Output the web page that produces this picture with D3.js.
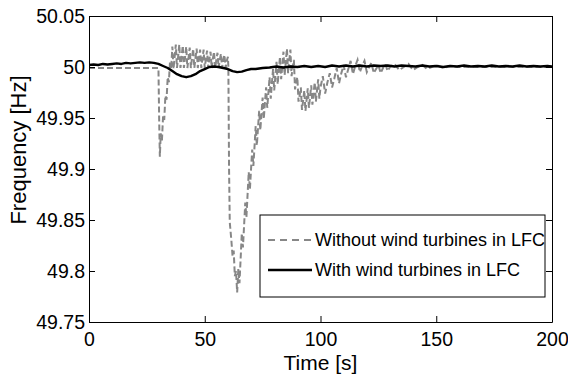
<!DOCTYPE html>
<html>
<head>
<meta charset="utf-8">
<script src="https://cdn.jsdelivr.net/npm/d3@7"></script>
<style>
  html, body { margin: 0; padding: 0; background: #fff; }
  svg { display: block; font-family: "Liberation Sans", Arial, sans-serif; }
</style>
</head>
<body>
<div id="chart"></div>
<script>
// frequency without wind turbines taking part in LFC (grey dashed)
const timeWithout = [
  0, 5, 10, 15, 20, 25, 29.8,
  30.0, 30.3, 30.6, 31, 31.5, 32, 32.5, 33, 33.5, 34, 34.5, 35, 35.5,
  36, 36.5, 37, 37.5, 38, 38.5, 39, 39.5, 40, 40.5, 41, 41.5, 42, 42.5, 43, 43.5, 44, 44.5,
  45, 45.5, 46, 46.5, 47, 47.5, 48, 48.5, 49, 49.5, 50, 50.5, 51, 51.5, 52, 52.5, 53, 53.5,
  54, 54.5, 55, 55.5, 56, 56.5, 57, 57.5, 58, 58.5, 59, 59.5, 60, 60.2,
  60.5, 60.8, 61.5, 62, 62.5, 63, 63.5, 64,
  64.5, 65, 65.5, 66, 66.5, 67, 67.5, 68, 68.5, 69, 69.5, 70, 70.5, 71, 71.5, 72, 72.5, 73,
  73.5, 74, 74.5, 75, 75.5, 76, 76.5, 77, 77.5, 78, 78.5, 79, 79.5, 80, 80.5, 81, 81.5, 82,
  82.5, 83, 83.5, 84, 84.5, 85, 85.5, 86, 86.5, 87, 87.5, 88, 88.5, 89, 89.5, 90, 90.5, 91,
  91.5, 92, 92.5, 93, 93.5, 94, 94.5, 95, 95.5, 96, 96.5, 97, 97.5, 98, 98.5, 99, 99.5, 100,
  101, 102, 103, 104, 105, 106, 107, 108, 109, 110, 111, 112, 113, 114, 115,
  116, 117, 118, 119, 120, 121, 122, 123, 124, 125, 126, 127, 128, 129, 130,
  132, 134, 136, 138, 140, 142, 144, 146, 148, 150, 153, 156, 160, 170, 180, 190, 200
];
const freqWithout = [
  49.999, 49.999, 49.999, 49.999, 49.999, 49.999, 49.999,
  49.999, 49.950, 49.912, 49.935, 49.928, 49.952, 49.948, 49.972, 49.968, 49.990, 49.985, 50.006, 49.998,
  50.020, 49.998, 50.010, 50.022, 49.999, 50.010, 50.022, 49.999, 50.010, 50.021, 49.999, 50.010, 50.020, 49.999, 50.009, 50.019, 49.999, 50.009,
  50.018, 49.999, 50.009, 50.018, 49.999, 50.009, 50.017, 49.999, 50.008, 50.017, 49.999, 50.008, 50.016, 49.999, 50.008, 50.015, 49.999, 50.008,
  50.015, 49.999, 50.007, 50.014, 49.999, 50.007, 50.013, 49.999, 50.007, 50.012, 49.999, 50.006, 50.010, 50.000,
  49.900, 49.848, 49.830, 49.815, 49.820, 49.795, 49.800, 49.779,
  49.802, 49.788, 49.812, 49.837, 49.823, 49.845, 49.867, 49.853, 49.875, 49.897, 49.880, 49.900, 49.919, 49.903, 49.922, 49.942, 49.923, 49.940,
  49.957, 49.938, 49.954, 49.970, 49.949, 49.965, 49.980, 49.960, 49.975, 49.990, 49.969, 49.984, 49.998, 49.977, 49.991, 50.005, 49.983, 49.997,
  50.010, 49.988, 50.001, 50.015, 49.992, 50.005, 50.018, 49.994, 50.006, 50.017, 49.991, 50.000, 50.007, 49.978, 49.985, 49.990, 49.966, 49.972,
  49.980, 49.958, 49.967, 49.977, 49.957, 49.968, 49.979, 49.960, 49.971, 49.982, 49.963, 49.974, 49.985, 49.966, 49.977, 49.988, 49.969, 49.980,
  49.991, 49.974, 49.985, 49.994, 49.980, 49.989, 49.999, 49.984, 49.994, 50.002, 49.990, 49.998, 50.006, 49.993, 50.001,
  50.007, 49.995, 50.001, 50.006, 49.995, 50.000, 50.004, 49.994, 49.998, 50.002, 49.994, 49.999, 50.003, 49.996, 50.000,
  50.003, 49.997, 50.000, 50.003, 49.997, 50.000, 50.002, 49.998, 50.000, 50.002, 49.999, 50.001, 50.000, 50.000, 50.000, 50.000, 50.000
];

// frequency with wind turbines taking part in LFC (black solid)
const timeWith = [
  0, 2, 4, 6, 8, 10, 12, 14, 16, 18, 20, 22, 24, 26, 28, 30, 32, 34, 36, 38, 40, 42, 44, 46, 48,
  50, 52, 54, 56, 58, 60, 62, 64, 66, 68, 70, 72, 75, 78,
  81, 84, 87, 90, 93, 96, 99, 102, 105, 108, 111, 114, 117, 120, 123, 126, 129, 132, 135, 138,
  141, 144, 147, 150, 153, 156, 159, 162, 165, 168, 171, 174, 177, 180, 183, 186, 189, 192, 195, 198, 200
];
const freqWith = [
  50.0020, 50.0025, 50.0020, 50.0030, 50.0025, 50.0030, 50.0035, 50.0030, 50.0040, 50.0035, 50.0040, 50.0045, 50.0040, 50.0045, 50.0040,
  50.0030, 50.0010, 49.9990, 49.9960, 49.9930, 49.9910, 49.9900, 49.9910, 49.9930, 49.9960,
  49.9980, 50.0000, 50.0005, 50.0000, 49.9990, 49.9980, 49.9960, 49.9950, 49.9955, 49.9970, 49.9980, 49.9980, 49.9990, 49.9995,
  50.0005, 49.9995, 50.0005, 50.0000, 50.0010, 50.0000, 50.0010, 50.0000, 50.0015, 50.0005, 50.0015, 50.0005, 50.0015, 50.0005,
  50.0015, 50.0010, 50.0015, 50.0005, 50.0015, 50.0010,
  50.0005, 50.0015, 50.0005, 50.0010, 50.0000, 50.0010, 50.0005, 50.0015, 50.0005, 50.0010, 50.0005, 50.0015, 50.0005, 50.0010,
  50.0005, 50.0015, 50.0005, 50.0010, 50.0005, 50.0010, 50.0005
];

const xTicks = [0, 50, 100, 150, 200];
const yTicks = [49.75, 49.8, 49.85, 49.9, 49.95, 50, 50.05];
const legendLabels = ["Without wind turbines in LFC", "With wind turbines in LFC"];

const W = 568, H = 376;
const margin = { top: 16, right: 16, bottom: 54, left: 89 };
const width = W - margin.left - margin.right;
const height = H - margin.top - margin.bottom;

const svg = d3.select('#chart').append('svg')
  .attr('width', W)
  .attr('height', H);

const g = svg.append('g')
  .attr('transform', `translate(${margin.left},${margin.top})`);

const x = d3.scaleLinear().domain([0, 200]).range([0, width]);
const y = d3.scaleLinear().domain([49.75, 50.05]).range([height, 0]);

g.append('clipPath').attr('id', 'clip')
  .append('rect').attr('width', width).attr('height', height);

const line = d3.line()
  .x(d => x(d[0]))
  .y(d => y(d[1]));

const plot = g.append('g').attr('clip-path', 'url(#clip)');

plot.append('path')
  .datum(d3.zip(timeWithout, freqWithout))
  .attr('fill', 'none')
  .attr('stroke', '#878787')
  .attr('stroke-width', 2)
  .attr('stroke-dasharray', '6,3')
  .attr('d', line);

plot.append('path')
  .datum(d3.zip(timeWith, freqWith))
  .attr('fill', 'none')
  .attr('stroke', '#000')
  .attr('stroke-width', 2.4)
  .attr('stroke-linejoin', 'round')
  .attr('d', line);

// axes, matlab style box with inward ticks
const tickLen = 6;
const fmt = d => String(+d.toFixed(2));

const axBottom = g.append('g')
  .attr('transform', `translate(0,${height})`)
  .call(d3.axisBottom(x).tickValues(xTicks).tickSizeInner(-tickLen).tickSizeOuter(0).tickPadding(10));
const axLeft = g.append('g')
  .call(d3.axisLeft(y).tickValues(yTicks).tickFormat(fmt).tickSizeInner(-tickLen).tickSizeOuter(0).tickPadding(4));
const axTop = g.append('g')
  .call(d3.axisTop(x).tickValues(xTicks).tickSizeInner(-tickLen).tickSizeOuter(0).tickFormat(''));
const axRight = g.append('g')
  .attr('transform', `translate(${width},0)`)
  .call(d3.axisRight(y).tickValues(yTicks).tickSizeInner(-tickLen).tickSizeOuter(0).tickFormat(''));

[axBottom, axLeft, axTop, axRight].forEach(a => {
  a.select('.domain').attr('stroke', '#000').attr('stroke-width', 1);
  a.selectAll('line').attr('stroke', '#000');
  a.selectAll('text')
    .attr('fill', '#000')
    .style('font-size', '19.5px');
});

g.append('text')
  .attr('x', width / 2)
  .attr('y', height + 48)
  .attr('text-anchor', 'middle')
  .style('font-size', '21px')
  .text('Time [s]');

// the y label sits a bit above the middle of the axis in the original
g.append('text')
  .attr('transform', `translate(${-71},${height / 2 - 19}) rotate(-90)`)
  .attr('text-anchor', 'middle')
  .attr('dominant-baseline', 'central')
  .style('font-size', '22px')
  .text('Frequency [Hz]');

// legend
const legend = svg.append('g').attr('transform', 'translate(260,215)');
legend.append('rect')
  .attr('width', 285)
  .attr('height', 82)
  .attr('fill', '#fff')
  .attr('stroke', '#000')
  .attr('stroke-width', 1);

const styles = [
  { stroke: '#878787', dash: '7,5', w: 2 },
  { stroke: '#000', dash: null, w: 2.5 }
];
legendLabels.forEach((label, i) => {
  const row = legend.append('g').attr('transform', `translate(0,${25 + i * 30})`);
  row.append('line')
    .attr('x1', 8).attr('x2', 52)
    .attr('y1', 0).attr('y2', 0)
    .attr('stroke', styles[i].stroke)
    .attr('stroke-width', styles[i].w)
    .attr('stroke-dasharray', styles[i].dash);
  row.append('text')
    .attr('x', 55)
    .attr('dominant-baseline', 'central')
    .style('font-size', '18px')
    .text(label);
});
</script>
</body>
</html>
